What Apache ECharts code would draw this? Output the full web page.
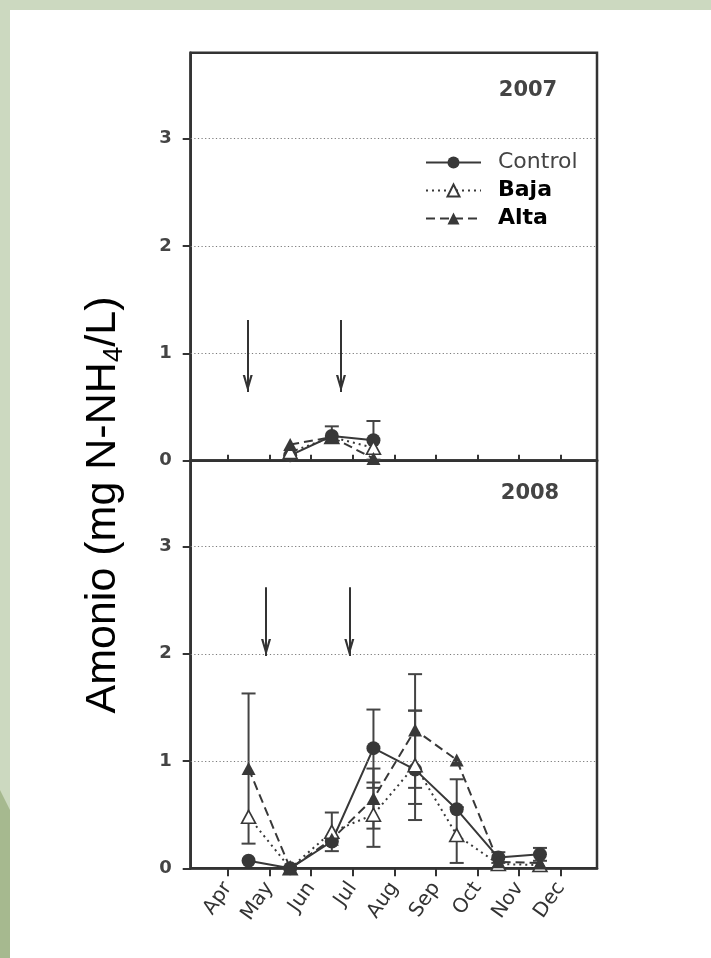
<!DOCTYPE html>
<html><head><meta charset="utf-8">
<script src="https://cdn.jsdelivr.net/npm/echarts@6/dist/echarts.min.js"></script>
<style>
html,body{margin:0;padding:0;}
body{width:711px;height:958px;position:relative;overflow:hidden;background:#ccd9c0;}
#panel{position:absolute;left:10px;top:10px;width:701px;height:948px;background:#ffffff;}
#dark{position:absolute;left:0;top:790px;width:10px;height:168px;background:#a6b98f;clip-path:polygon(0 0,100% 20px,100% 100%,0 100%);}
#chart{position:absolute;left:0;top:0;width:711px;height:958px;}
</style></head><body>
<div id="dark"></div><div id="panel"></div><div id="chart"></div>
<script>
// ---------------- data ----------------
const monthTicks = [4, 5, 6, 7, 8, 9, 10, 11, 12];
const monthLabels = ['Apr', 'May', 'Jun', 'Jul', 'Aug', 'Sep', 'Oct', 'Nov', 'Dec'];
const yTicks = [0, 1, 2, 3];
const gridValues = [1, 2, 3];
const seriesNames = ['Control', 'Baja', 'Alta'];
const yearLabels = ['2007', '2008'];

// 2007
const x2007 = [5.5, 6.5, 7.5];
const control2007 = [0.05, 0.23, 0.19];
const baja2007 = [0.08, 0.22, 0.12];
const alta2007 = [0.15, 0.22, 0.02];
const controlErrUp2007 = [0, 0.09, 0.18];
const controlErrDown2007 = [0, 0, 0.18];
const bajaErrUp2007 = [0, 0, 0];
const bajaErrDown2007 = [0, 0, 0];
const altaErrUp2007 = [0, 0, 0];
const altaErrDown2007 = [0, 0, 0];

// 2008
const x2008 = [4.5, 5.5, 6.5, 7.5, 8.5, 9.5, 10.5, 11.5];
const control2008 = [0.07, 0.00, 0.25, 1.12, 0.92, 0.55, 0.10, 0.13];
const baja2008 = [0.48, 0.00, 0.34, 0.50, 0.96, 0.31, 0.04, 0.03];
const alta2008 = [0.93, 0.00, 0.27, 0.65, 1.29, 1.01, 0.06, 0.05];
const controlErrUp2008 = [0, 0, 0, 0.36, 0.55, 0.28, 0.05, 0.06];
const controlErrDown2008 = [0, 0, 0, 0.37, 0.32, 0, 0.05, 0.06];
const bajaErrUp2008 = [0, 0, 0.18, 0.30, 0.51, 0.26, 0, 0];
const bajaErrDown2008 = [0, 0, 0.18, 0.30, 0.51, 0.26, 0, 0];
const altaErrUp2008 = [0.70, 0, 0, 0.28, 0.52, 0, 0, 0];
const altaErrDown2008 = [0.70, 0, 0, 0.28, 0.54, 0, 0, 0];

// application arrows (x in months, from / to in mg/L)
const arrowX2007 = [4.48, 6.72];
const arrowFrom2007 = 1.31;
const arrowTo2007 = 0.64;
const arrowX2008 = [4.92, 6.92];
const arrowFrom2008 = 2.62;
const arrowTo2008 = 1.98;

// ---------------- layout / style ----------------
const GL = 190.7, GR = 597, T1 = 52.7, MID = 460.7, B2 = 868.3;
const INK = '#383838';
const FRAME = '#333333';

const chart = echarts.init(document.getElementById('chart'), null, {renderer: 'canvas'});

const styles = {
  Control: {symbol: 'circle', symbolSize: 14, itemStyle: {color: INK}, lineStyle: {color: INK, width: 2, type: 'solid'}},
  Baja: {symbol: 'triangle', symbolSize: [14, 13], itemStyle: {color: '#ffffff', borderColor: INK, borderWidth: 1.6}, lineStyle: {color: INK, width: 2, type: [2, 4]}},
  Alta: {symbol: 'triangle', symbolSize: [14, 13], itemStyle: {color: INK}, lineStyle: {color: INK, width: 2, type: [9, 5]}}
};

function lineSeries(name, xs, ys, gi) {
  return Object.assign({
    type: 'line', name: name, xAxisIndex: gi, yAxisIndex: gi,
    data: xs.map((x, i) => [x, ys[i]]),
    clip: false, z: 3, emphasis: {disabled: true}, animation: false
  }, styles[name]);
}

function errSeries(name, xs, ys, up, down, gi) {
  const data = [];
  xs.forEach((x, i) => {
    if (up[i] > 0 || down[i] > 0) data.push([x, ys[i] - down[i], ys[i] + up[i], up[i], down[i]]);
  });
  return {
    type: 'custom', name: name + ' err', xAxisIndex: gi, yAxisIndex: gi, data: data, z: 2,
    clip: false, silent: true, animation: false,
    encode: {x: 0, y: [1, 2]},
    renderItem: function (params, api) {
      const x = api.value(0), lo = api.value(1), hi = api.value(2), u = api.value(3), d = api.value(4);
      const pHi = api.coord([x, hi]);
      const pLo = api.coord([x, lo]);
      const half = 7;
      const st = {stroke: '#444', lineWidth: 2};
      const ch = [{type: 'line', shape: {x1: pHi[0], y1: pHi[1], x2: pLo[0], y2: pLo[1]}, style: st}];
      if (u > 0) ch.push({type: 'line', shape: {x1: pHi[0] - half, y1: pHi[1], x2: pHi[0] + half, y2: pHi[1]}, style: st});
      if (d > 0) ch.push({type: 'line', shape: {x1: pLo[0] - half, y1: pLo[1], x2: pLo[0] + half, y2: pLo[1]}, style: st});
      return {type: 'group', children: ch};
    }
  };
}

const arrowPath = 'path://M5,0 L10,16 L7.7,16 L5,6.5 L2.3,16 L0,16 Z';
function helperSeries(gi, ax, from, to) {
  return [{
    type: 'line', name: 'grid' + gi, xAxisIndex: gi, yAxisIndex: gi, data: [], z: 1, animation: false,
    markLine: {
      silent: true, animation: false, symbol: ['none', 'none'],
      label: {show: false},
      lineStyle: {color: '#7a7a7a', width: 1, type: [1.2, 2.4]},
      data: gridValues.map(v => ({yAxis: v}))
    }
  }, {
    type: 'line', name: 'arrows' + gi, xAxisIndex: gi, yAxisIndex: gi, data: [], z: 2, animation: false,
    markLine: {
      silent: true, animation: false, symbol: ['none', arrowPath], symbolSize: [10, 17],
      symbolOffset: [[0, 0], [0, 8.5]],
      label: {show: false},
      lineStyle: {color: '#333', width: 2, type: 'solid'},
      data: ax.map(x => [{coord: [x, from]}, {coord: [x, to]}])
    }
  }];
}

function xAxis(gi, lower) {
  return {
    type: 'value', gridIndex: gi, min: 3.11, max: 12.87,
    axisLine: {show: true, onZero: false, lineStyle: {color: FRAME, width: 2.5}},
    axisTick: {show: true, inside: !lower, length: lower ? 8 : 6, customValues: monthTicks, lineStyle: {color: FRAME, width: 2}},
    axisLabel: {
      show: lower, customValues: monthTicks, rotate: 55, margin: 16,
      fontFamily: 'DejaVu Sans', fontSize: 20, color: '#333',
      formatter: v => monthLabels[monthTicks.indexOf(v)]
    },
    splitLine: {show: false}
  };
}
function yAxis(gi) {
  return {
    type: 'value', gridIndex: gi, min: 0, max: 3.8, interval: 1,
    axisLine: {show: true, lineStyle: {color: FRAME, width: 2.5}},
    axisTick: {show: true, length: 8, customValues: yTicks, lineStyle: {color: FRAME, width: 2}},
    axisLabel: {customValues: yTicks, margin: 19, fontFamily: 'DejaVu Sans', fontWeight: 'bold', fontSize: 18, color: '#444'},
    splitLine: {show: false}
  };
}

const series = [].concat(
  helperSeries(0, arrowX2007, arrowFrom2007, arrowTo2007),
  helperSeries(1, arrowX2008, arrowFrom2008, arrowTo2008),
  [
    errSeries('Control', x2007, control2007, controlErrUp2007, controlErrDown2007, 0),
    errSeries('Baja', x2007, baja2007, bajaErrUp2007, bajaErrDown2007, 0),
    errSeries('Alta', x2007, alta2007, altaErrUp2007, altaErrDown2007, 0),
    errSeries('Control', x2008, control2008, controlErrUp2008, controlErrDown2008, 1),
    errSeries('Baja', x2008, baja2008, bajaErrUp2008, bajaErrDown2008, 1),
    errSeries('Alta', x2008, alta2008, altaErrUp2008, altaErrDown2008, 1),
    lineSeries('Control', x2007, control2007, 0),
    lineSeries('Baja', x2007, baja2007, 0),
    lineSeries('Alta', x2007, alta2007, 0),
    lineSeries('Control', x2008, control2008, 1),
    lineSeries('Baja', x2008, baja2008, 1),
    lineSeries('Alta', x2008, alta2008, 1)
  ]
);

const legendTops = [151.5, 179.5, 207.5];
const legendText = {
  Control: {fontFamily: 'DejaVu Sans', fontWeight: 'normal', fontSize: 22, color: '#444'},
  Baja: {fontFamily: 'DejaVu Sans', fontWeight: 'bold', fontSize: 22, color: '#000'},
  Alta: {fontFamily: 'DejaVu Sans', fontWeight: 'bold', fontSize: 22, color: '#000'}
};
const legends = seriesNames.map((n, i) => ({
  data: [n], left: 425, top: legendTops[i], orient: 'vertical', padding: 0,
  itemWidth: 55, itemHeight: 15, selectedMode: false,
  textStyle: Object.assign({lineHeight: 21, padding: [0, 0, 0, 12]}, legendText[n])
}));

chart.setOption({
  animation: false,
  backgroundColor: 'transparent',
  grid: [
    {left: GL, top: T1, width: GR - GL, height: MID - T1, show: true, borderColor: FRAME, borderWidth: 2.5, backgroundColor: 'transparent'},
    {left: GL, top: MID, width: GR - GL, height: B2 - MID, show: true, borderColor: FRAME, borderWidth: 2.5, backgroundColor: 'transparent'}
  ],
  xAxis: [xAxis(0, false), xAxis(1, true)],
  yAxis: [yAxis(0), yAxis(1)],
  legend: legends,
  series: series,
  graphic: [
    {type: 'text', x: 528, y: 91, style: {text: yearLabels[0], fontFamily: 'DejaVu Sans', fontWeight: 'bold', fontSize: 21, fill: '#444', align: 'center', verticalAlign: 'middle'}},
    {type: 'text', x: 530, y: 494, style: {text: yearLabels[1], fontFamily: 'DejaVu Sans', fontWeight: 'bold', fontSize: 21, fill: '#444', align: 'center', verticalAlign: 'middle'}},
    {type: 'text', x: 103, y: 505, rotation: Math.PI / 2, style: {
      text: '{m|Amonio (mg N-NH}{s|4}{m|/L)}', align: 'center', verticalAlign: 'middle', fill: '#000',
      rich: {
        m: {fontFamily: 'Liberation Sans', fontSize: 43, lineHeight: 50, verticalAlign: 'middle', fill: '#000'},
        s: {fontFamily: 'Liberation Sans', fontSize: 28, lineHeight: 26, verticalAlign: 'bottom', fill: '#000'}
      }
    }}
  ]
});
</script>
</body></html>
